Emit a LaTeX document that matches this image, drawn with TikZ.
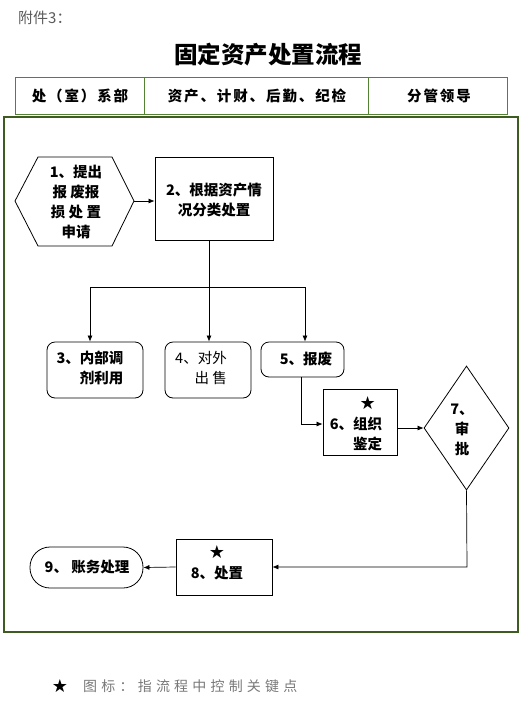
\documentclass[tikz,border=0pt]{standalone}
\usepackage{fontspec}
\setmainfont{Noto Sans CJK SC}
\newfontfamily\symfont{DejaVu Sans}
\usetikzlibrary{shapes.geometric,arrows.meta}
\definecolor{hdrgreen}{RGB}{84,130,53}
\definecolor{frgreen}{RGB}{62,92,34}
\definecolor{capgray}{RGB}{90,90,90}
\definecolor{footgray}{RGB}{120,120,120}
\newcommand{\starsym}{{\symfont\fontsize{18}{20}\selectfont ★}}
\begin{document}
\begin{tikzpicture}[x=1pt,y=-1pt,
  txt/.style={align=center, inner sep=0, font=\fontsize{14.5}{20}\selectfont\bfseries},
  boxsq/.style={draw, line width=0.8pt, inner sep=0},
  boxrd/.style={draw, line width=0.8pt, inner sep=0, rounded corners=8pt},
  hdr/.style={inner sep=0, font=\fontsize{14.5}{16}\selectfont\bfseries\addfontfeature{LetterSpace=13}},
  lin/.style={line width=0.7pt},
  arr/.style={-{Latex[length=6pt,width=5pt]}, line width=0.7pt}]
\useasboundingbox (0,0) rectangle (528,721);

% caption and title
\node[anchor=west, inner sep=0, text=capgray, font=\fontsize{15}{17}\selectfont] (cap) at (18,18) {附件3：};
\node[inner sep=0, font=\fontsize{23.5}{26}\selectfont\bfseries] (title) at (268,55) {固定资产处置流程};

% header table
\draw[hdrgreen, line width=1pt] (15,77) rectangle (507,114);
\draw[hdrgreen, line width=1pt] (144,77) -- (144,114) (368,77) -- (368,114);
\node[hdr] (h1) at (80,96) {处（室）系部};
\node[hdr] (h2) at (257,96) {资产、计财、后勤、纪检};
\node[hdr] (h3) at (439,96) {分管领导};

% frame
\draw[frgreen, line width=1.2pt] (4,117) rectangle (518,632);

% 1 hexagon
\draw[line width=0.8pt] (15,201) -- (38,157) -- (112,157) -- (134,201) -- (112,246) -- (38,246) -- cycle;
\coordinate (hexE) at (134,201);
\node[txt] (n1) at (76,202) {1、提出\\报 废报\\损 处 置\\申请};

% 2
\node[boxsq, minimum width=118pt, minimum height=83pt] (b2) at (214,198.5) {};
\node[txt] (t2) at (214,200) {2、根据资产情\\况分类处置};

% 3,4,5
\node[boxrd, minimum width=96pt, minimum height=56pt] (b3) at (95,370) {};
\node[txt, align=right] (t3) at (90,368) {3、内部调\\剂利用};
\node[boxrd, minimum width=86pt, minimum height=56pt] (b4) at (208,370) {};
\node[txt, align=right, font=\fontsize{14.5}{20}\selectfont] (t4) at (201,368) {4、对外\\出 售};
\node[boxrd, minimum width=83pt, minimum height=35pt] (b5) at (302.5,359.5) {};
\node[txt] (t5) at (306,359) {5、报废};

% 6
\node[boxsq, minimum width=74pt, minimum height=66pt] (b6) at (360,422) {};
\node[txt, align=right] (t6) at (356,424) {\makebox[2em][c]{\starsym}\\6、组织\\鉴定};

% 7 diamond
\node[diamond, draw, line width=0.8pt, inner sep=0, minimum width=85pt, minimum height=124pt] (dia) at (466.5,428) {};
\node[txt] (t7) at (462,430) {7、\\审\\批};

% 8
\node[boxsq, minimum width=96pt, minimum height=56pt] (b8) at (224,567) {};
\node[txt] (t8) at (217,563) {\starsym\\8、处置};

% 9
\node[draw, line width=0.8pt, inner sep=0, rounded corners=20pt, minimum width=113pt, minimum height=41pt] (b9) at (86.5,567.5) {};
\node[txt] (t9) at (87,567) {9、 账务处理};

% connectors
\draw[arr] (hexE) -- (b2.west |- hexE);
\coordinate (j) at (209,287);
\coordinate (jl) at (90,287);
\coordinate (jm) at (209,287);
\coordinate (jr) at (305,287);
\draw[lin] (b2.south -| j) -- (j);
\draw[lin] (jl) -- (jr);
\draw[arr] (jl) -- (jl |- b3.north);
\draw[arr] (jm) -- (jm |- b4.north);
\draw[arr] (jr) -- (jr |- b5.north);
\coordinate (k5) at (301,377);
\coordinate (k6) at (301,424);
\draw[arr] (k5) -- (k6) -- (b6.west |- k6);
\coordinate (k7) at (397,428);
\draw[arr] (k7) -- (dia.west);
\coordinate (k8) at (467,567);
\draw[arr] (dia.south) -- (k8) -- (b8.east);
\draw[arr] (b8.west) -- (b9.east);

% footer
\node[inner sep=0] (fstar) at (60,686) {\starsym};
\node[anchor=west, inner sep=0, text=footgray, font=\fontsize{14}{15}\selectfont\addfontfeature{LetterSpace=30}] (foot) at (83,686) {图标：指流程中控制关键点};
\end{tikzpicture}
\end{document}
